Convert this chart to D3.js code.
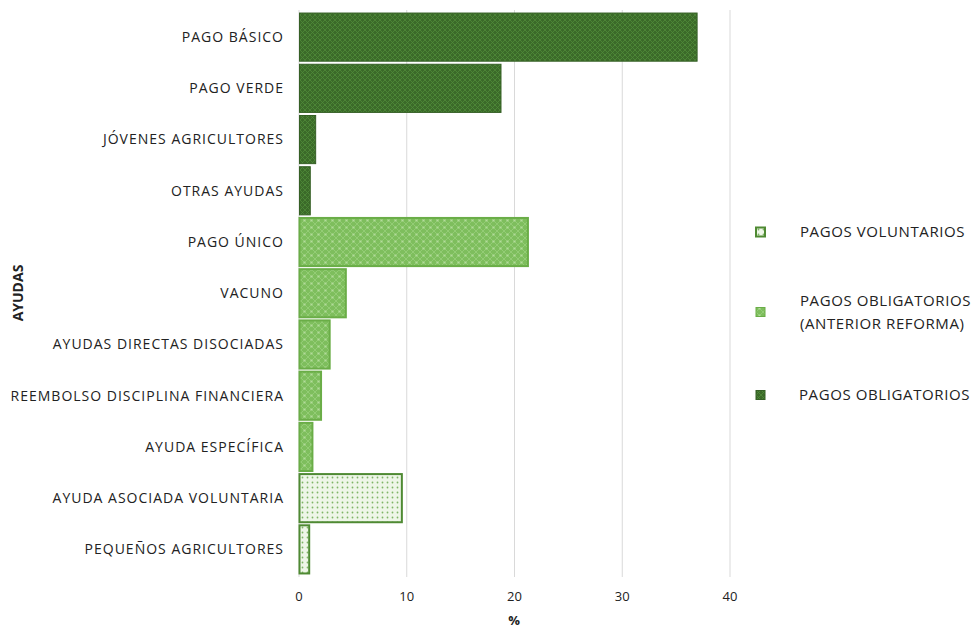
<!DOCTYPE html>
<html><head><meta charset="utf-8">
<script src="https://cdn.jsdelivr.net/npm/d3@7"></script>
<style>
body{margin:0;background:#fff;}
text{font-family:"Open Sans","Noto Sans",sans-serif;fill:#222;}
</style></head>
<body><svg id="c" width="977" height="629"></svg>
<script>
const categories = ["PAGO BÁSICO","PAGO VERDE","JÓVENES AGRICULTORES","OTRAS AYUDAS","PAGO ÚNICO","VACUNO","AYUDAS DIRECTAS DISOCIADAS","REEMBOLSO DISCIPLINA FINANCIERA","AYUDA ESPECÍFICA","AYUDA ASOCIADA VOLUNTARIA","PEQUEÑOS AGRICULTORES"];
const values = [36.9, 18.7, 1.5, 1.0, 21.2, 4.3, 2.8, 2.0, 1.2, 9.5, 0.9];
const groups = ["oblig","oblig","oblig","oblig","ant","ant","ant","ant","ant","vol","vol"];
const xTicks = [0,10,20,30,40];
const legendKeys = ["vol","ant","oblig"];
const legendLabels = [["PAGOS VOLUNTARIOS"],["PAGOS OBLIGATORIOS","(ANTERIOR REFORMA)"],["PAGOS OBLIGATORIOS"]];

const style = {
  oblig:{base:"#3b6a29",dot:"#4f8a39",stroke:"#355f25"},
  ant:{base:"#7ebe5d",dot:"#98cf7b",stroke:"#6aad47"},
  vol:{base:"#eef6e8",dot:"#7fb567",stroke:"#4f8a33"}
};

const svg = d3.select("#c");
const defs = svg.append("defs");
const pObl = defs.append("pattern").attr("id","p-oblig").attr("width",5).attr("height",5).attr("patternUnits","userSpaceOnUse");
pObl.append("rect").attr("width",5).attr("height",5).attr("fill",style.oblig.base);
pObl.append("path").attr("d","M0,0L5,5M5,0L0,5").attr("stroke",style.oblig.dot).attr("stroke-width",0.8);
const pAnt = defs.append("pattern").attr("id","p-ant").attr("width",7).attr("height",7).attr("patternUnits","userSpaceOnUse");
pAnt.append("rect").attr("width",7).attr("height",7).attr("fill",style.ant.base);
pAnt.append("path").attr("d","M0,0L7,7M7,0L0,7").attr("stroke",style.ant.dot).attr("stroke-width",0.8);
pAnt.append("circle").attr("cx",3.5).attr("cy",3.5).attr("r",1.1).attr("fill","#b4dc9c");
const pVol = defs.append("pattern").attr("id","p-vol").attr("width",5).attr("height",5).attr("patternUnits","userSpaceOnUse");
pVol.append("rect").attr("width",5).attr("height",5).attr("fill",style.vol.base);
pVol.append("circle").attr("cx",2.5).attr("cy",2.5).attr("r",0.9).attr("fill",style.vol.dot);

const x = d3.scaleLinear().domain([0,40]).range([299,730]);
const y = d3.scaleBand().domain(categories).range([11.5,575]).paddingInner(0.06).paddingOuter(0.03);

svg.append("g").selectAll("line").data(xTicks).join("line")
  .attr("x1",d=>x(d)).attr("x2",d=>x(d)).attr("y1",10).attr("y2",577)
  .attr("stroke","#d9d9d9").attr("stroke-width",1);

svg.append("g").selectAll("rect").data(categories).join("rect")
  .attr("x",x(0)+0.5)
  .attr("y",d=>y(d))
  .attr("height",y.bandwidth())
  .attr("width",(d,i)=>x(values[i])-x(0))
  .attr("fill",(d,i)=>`url(#p-${groups[i]})`)
  .attr("stroke",(d,i)=>style[groups[i]].stroke)
  .attr("stroke-width",(d,i)=>groups[i]==="oblig"?1:2);

svg.append("g").selectAll("text").data(categories).join("text")
  .attr("x",284).attr("y",d=>y(d)+y.bandwidth()/2)
  .attr("dy","0.35em").attr("text-anchor","end")
  .attr("font-size",14).attr("letter-spacing",1.0).text(d=>d);

svg.append("g").selectAll("text").data(xTicks).join("text")
  .attr("x",d=>x(d)).attr("y",601).attr("text-anchor","middle")
  .attr("font-size",13).text(d=>d);

svg.append("text").attr("x",514).attr("y",625).attr("text-anchor","middle")
  .attr("font-size",13).attr("font-weight","bold").text("%");
svg.append("text").attr("transform","translate(23,293) rotate(-90)").attr("text-anchor","middle")
  .attr("font-size",14).attr("font-weight","bold").text("AYUDAS");

const legY = [232,312,395];
const lg = svg.append("g").selectAll("g").data(legendKeys).join("g")
  .attr("transform",(d,i)=>`translate(756,${legY[i]})`);
lg.append("rect").attr("x",0).attr("y",-4.5).attr("width",9).attr("height",9)
  .attr("fill",d=>`url(#p-${d})`).attr("stroke",d=>style[d].stroke).attr("stroke-width",d=>d==="vol"?2:1);
lg.each(function(d,i){
  const lines = legendLabels[i];
  const g = d3.select(this);
  lines.forEach((t,j)=>{
    g.append("text").attr("x",d==="oblig"?43:44)
      .attr("y",(j-(lines.length-1)/2)*23).attr("dy","0.35em")
      .attr("font-size",15).attr("letter-spacing",0.6).text(t);
  });
});
</script></body></html>
